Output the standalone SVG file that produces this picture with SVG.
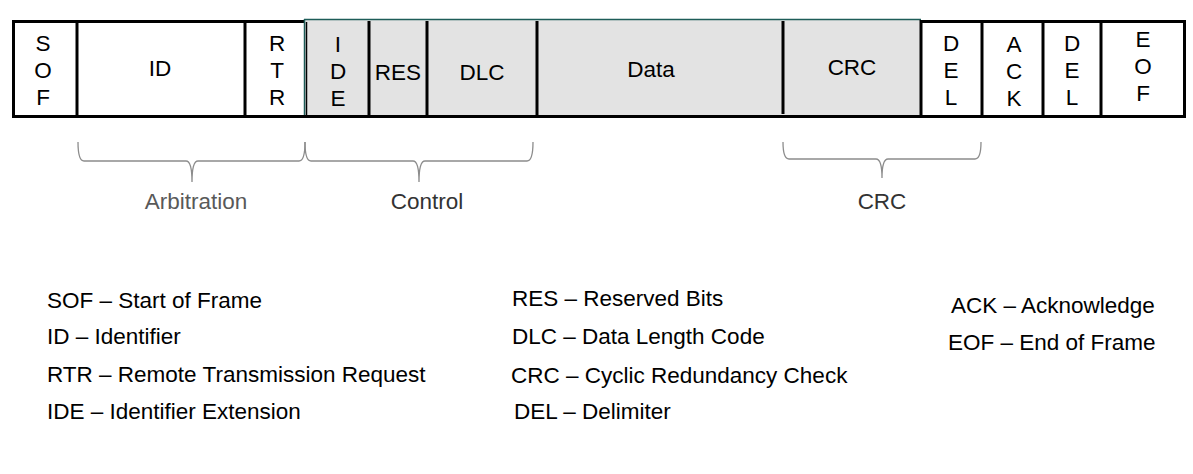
<svg xmlns="http://www.w3.org/2000/svg" width="1193" height="474" viewBox="0 0 1193 474">
<style>
text{font-family:"Liberation Sans",Arial,sans-serif;font-size:22.5px;fill:#000}
.c{text-anchor:middle}
.div{stroke:#000;stroke-width:3}
.brace{fill:none;stroke:#8c8c8c;stroke-width:1.3}
.grp{fill:#333}
</style>
<rect x="0" y="0" width="1193" height="474" fill="#fff"/>
<g id="frame">
<rect x="13.5" y="21.5" width="1171" height="95" fill="#fff" stroke="#000" stroke-width="3"/>
<rect x="305" y="20" width="616" height="95" fill="#e3e3e3"/>
<line x1="304" y1="19.5" x2="921" y2="19.5" stroke="#1d5c58" stroke-width="1.5"/>
<line x1="304.5" y1="19" x2="304.5" y2="116" stroke="#1d5c58" stroke-width="1.5"/>
<line x1="306.5" y1="22" x2="306.5" y2="116" stroke="#000" stroke-width="1.5"/>
<line class="div" x1="77" y1="21" x2="77" y2="117"/>
<line class="div" x1="245" y1="21" x2="245" y2="117"/>
<line class="div" x1="369" y1="21" x2="369" y2="117"/>
<line class="div" x1="427" y1="21" x2="427" y2="117"/>
<line class="div" x1="537" y1="21" x2="537" y2="117"/>
<line class="div" x1="783" y1="21" x2="783" y2="114"/>
<line class="div" x1="921" y1="20" x2="921" y2="117"/>
<line class="div" x1="982" y1="21" x2="982" y2="117"/>
<line class="div" x1="1043" y1="21" x2="1043" y2="117"/>
<line class="div" x1="1101" y1="21" x2="1101" y2="117"/>
<line x1="12" y1="116.5" x2="1186" y2="116.5" stroke="#000" stroke-width="3"/>
</g>
<g id="sof"><text class="c" x="43" y="51">S</text><text class="c" x="43" y="78">O</text><text class="c" x="43" y="105">F</text></g>
<g id="id"><text class="c" x="160" y="76">ID</text></g>
<g id="rtr"><text class="c" x="277" y="51">R</text><text class="c" x="277" y="78">T</text><text class="c" x="277" y="105">R</text></g>
<g id="ide"><text class="c" x="338" y="52">I</text><text class="c" x="338" y="79">D</text><text class="c" x="338" y="106">E</text></g>
<g id="res"><text class="c" x="398" y="80">RES</text></g>
<g id="dlc"><text class="c" x="482" y="80">DLC</text></g>
<g id="data"><text class="c" x="651" y="77">Data</text></g>
<g id="crc"><text class="c" x="852" y="75">CRC</text></g>
<g id="del1"><text class="c" x="951" y="51">D</text><text class="c" x="951" y="78">E</text><text class="c" x="951" y="105">L</text></g>
<g id="ack"><text class="c" x="1014" y="52">A</text><text class="c" x="1014" y="79">C</text><text class="c" x="1014" y="106">K</text></g>
<g id="del2"><text class="c" x="1072" y="51">D</text><text class="c" x="1072" y="78">E</text><text class="c" x="1072" y="105">L</text></g>
<g id="eof"><text class="c" x="1143" y="47">E</text><text class="c" x="1143" y="74">O</text><text class="c" x="1143" y="101">F</text></g>
<g id="connectors">
<path class="brace" d="M78,142 Q78,161 84,161 L186,161 Q192,161 192,182 Q192,161 198,161 L299,161 Q305,161 305,142"/>
<path class="brace" d="M305,142 Q305,161 311,161 L413,161 Q419,161 419,182 Q419,161 425,161 L527,161 Q533,161 533,142"/>
<path class="brace" d="M783,142 Q783,159 789,159 L876,159 Q882,159 882,178 Q882,159 888,159 L975,159 Q981,159 981,142"/>
</g>
<g id="group-labels">
<text class="c" x="196" y="209" style="fill:#595959">Arbitration</text>
<text class="c grp" x="427" y="209">Control</text>
<text class="c grp" x="882" y="209">CRC</text>
</g>
<g id="legend">
<text x="47" y="308">SOF – Start of Frame</text>
<text x="47" y="344">ID – Identifier</text>
<text x="47" y="382">RTR – Remote Transmission Request</text>
<text x="47" y="419">IDE – Identifier Extension</text>
<text x="512" y="306">RES – Reserved Bits</text>
<text x="512" y="344">DLC – Data Length Code</text>
<text x="511" y="383">CRC – Cyclic Redundancy Check</text>
<text x="514" y="419">DEL – Delimiter</text>
<text x="951" y="313">ACK – Acknowledge</text>
<text x="948" y="350">EOF – End of Frame</text>
</g>
</svg>
